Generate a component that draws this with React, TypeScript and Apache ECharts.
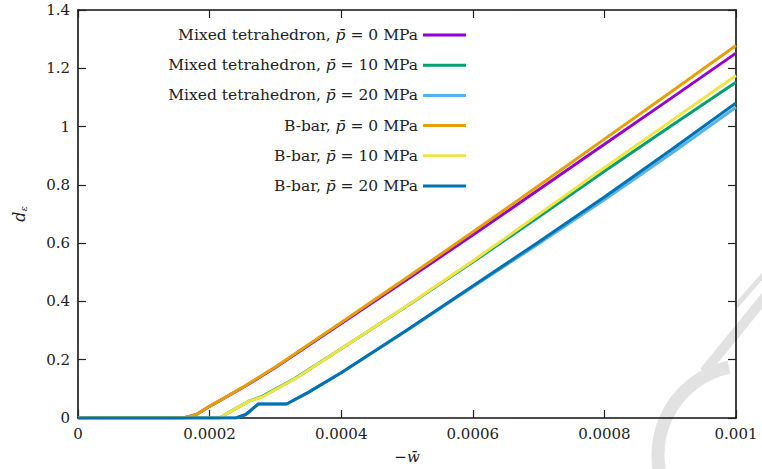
import React, { useEffect, useRef } from "react";
import * as echarts from "echarts";

const xTickLabels = ["0", "0.0002", "0.0004", "0.0006", "0.0008", "0.001"];
const yTickLabels = ["0", "0.2", "0.4", "0.6", "0.8", "1", "1.2", "1.4"];

const seriesNames = [
  "Mixed tetrahedron, p\u0304 = 0 MPa",
  "Mixed tetrahedron, p\u0304 = 10 MPa",
  "Mixed tetrahedron, p\u0304 = 20 MPa",
  "B-bar, p\u0304 = 0 MPa",
  "B-bar, p\u0304 = 10 MPa",
  "B-bar, p\u0304 = 20 MPa",
];

const seriesColors = ["#9400d3", "#009e73", "#56b4e9", "#e69f00", "#f0e442", "#0072b2"];

const mixed0: [number, number][] = [
  [0, 0], [0.00016, 0], [0.00018, 0.012], [0.0002, 0.04], [0.00025, 0.104],
  [0.0003, 0.173], [0.0004, 0.324], [0.0005, 0.475], [0.0006, 0.628],
  [0.0007, 0.783], [0.0008, 0.939], [0.0009, 1.095], [0.001, 1.252],
];
const mixed10: [number, number][] = [
  [0, 0], [0.000215, 0], [0.00023, 0.02], [0.00026, 0.058], [0.00028, 0.074],
  [0.00033, 0.136], [0.0004, 0.238], [0.0005, 0.384], [0.0006, 0.535],
  [0.0007, 0.69], [0.0008, 0.847], [0.0009, 1.0], [0.001, 1.152],
];
const mixed20: [number, number][] = [
  [0, 0], [0.00024, 0], [0.000255, 0.012], [0.000274, 0.048], [0.000317, 0.048],
  [0.00035, 0.088], [0.0004, 0.155], [0.0005, 0.3], [0.0006, 0.45],
  [0.0007, 0.598], [0.0008, 0.749], [0.0009, 0.905], [0.001, 1.066],
];
const bbar0: [number, number][] = [
  [0, 0], [0.00016, 0], [0.00018, 0.012], [0.0002, 0.04], [0.00025, 0.105],
  [0.0003, 0.175], [0.0004, 0.328], [0.0005, 0.482], [0.0006, 0.638],
  [0.0007, 0.797], [0.0008, 0.957], [0.0009, 1.117], [0.001, 1.278],
];
const bbar10: [number, number][] = [
  [0, 0], [0.000215, 0], [0.00023, 0.02], [0.00026, 0.058], [0.00028, 0.072],
  [0.00033, 0.135], [0.0004, 0.238], [0.0005, 0.385], [0.0006, 0.539],
  [0.0007, 0.698], [0.0008, 0.859], [0.0009, 1.017], [0.001, 1.175],
];
const bbar20: [number, number][] = [
  [0, 0], [0.00024, 0], [0.000255, 0.012], [0.000274, 0.048], [0.000317, 0.048],
  [0.00035, 0.088], [0.0004, 0.155], [0.0005, 0.302], [0.0006, 0.453],
  [0.0007, 0.604], [0.0008, 0.758], [0.0009, 0.918], [0.001, 1.081],
];

const seriesData = [mixed0, mixed10, mixed20, bbar0, bbar10, bbar20];

const FONT = "'DejaVu Serif', 'Liberation Serif', serif";
const TXT = "#222";
const WM = "#e2e2e2";
const X_MIN = 0, X_MAX = 0.001, Y_MIN = 0, Y_MAX = 1.4;
const GRID = { left: 78, right: 26, top: 10, bottom: 51 };
const W = 762, H = 469;
const PLOT_W = W - GRID.left - GRID.right;
const PLOT_H = H - GRID.top - GRID.bottom;

export default function App() {
  const ref = useRef<HTMLDivElement>(null);
  useEffect(() => {
    if (!ref.current) return;
    const chart = echarts.init(ref.current, undefined, { renderer: "svg" });
    const mkLine = () => ({ show: true, onZero: false, lineStyle: { color: "#111", width: 1.6 } });
    const mkTick = () => ({ show: true, inside: false, length: 8, lineStyle: { color: "#222", width: 1.2 } });
    // Tick-only axes placed on the opposite side so that their outward ticks point into the plot.
    const xTickAxis = (position: "top" | "bottom", offset: number) => ({
      type: "value",
      min: X_MIN,
      max: X_MAX,
      interval: 0.0002,
      position,
      offset,
      axisLine: { show: false, onZero: false },
      axisTick: mkTick(),
      splitLine: { show: false },
      axisLabel: { show: false },
    });
    const yTickAxis = (position: "left" | "right", offset: number) => ({
      type: "value",
      min: Y_MIN,
      max: Y_MAX,
      interval: 0.2,
      position,
      offset,
      axisLine: { show: false, onZero: false },
      axisTick: mkTick(),
      splitLine: { show: false },
      axisLabel: { show: false },
    });
    chart.setOption({
      animation: false,
      backgroundColor: "#ffffff",
      textStyle: { fontFamily: FONT },
      grid: { ...GRID, containLabel: false },
      legend: {
        orient: "vertical",
        align: "right",
        right: 296,
        top: 27,
        padding: 0,
        itemWidth: 43,
        itemHeight: 3,
        itemGap: 14.2,
        icon: "rect",
        data: seriesNames,
        formatter: (name: string) => name.replace("p\u0304", "{i|p\u0304}"),
        textStyle: {
          fontFamily: FONT,
          fontSize: 15.5,
          color: TXT,
          lineHeight: 16,
          rich: { i: { fontFamily: FONT, fontStyle: "italic", fontSize: 15.5, color: TXT, lineHeight: 16 } },
        },
      },
      xAxis: [
        {
          type: "value",
          min: X_MIN,
          max: X_MAX,
          interval: 0.0002,
          position: "bottom",
          name: "\u2212{i|w\u0304}",
          nameLocation: "middle",
          nameGap: 31,
          nameTextStyle: {
            fontFamily: FONT,
            fontSize: 15,
            color: TXT,
            rich: { i: { fontFamily: FONT, fontStyle: "italic", fontSize: 15, color: TXT } },
          },
          axisLine: mkLine(),
          axisTick: { show: false },
          splitLine: { show: false },
          axisLabel: {
            margin: 8,
            fontFamily: FONT,
            fontSize: 15,
            color: TXT,
            formatter: (v: number) => xTickLabels[Math.round(v / 0.0002)] ?? "",
          },
        },
        {
          type: "value",
          min: X_MIN,
          max: X_MAX,
          interval: 0.0002,
          position: "top",
          axisLine: mkLine(),
          axisTick: { show: false },
          splitLine: { show: false },
          axisLabel: { show: false },
        },
        xTickAxis("top", -PLOT_H),
        xTickAxis("bottom", -PLOT_H),
      ],
      yAxis: [
        {
          type: "value",
          min: Y_MIN,
          max: Y_MAX,
          interval: 0.2,
          position: "left",
          name: "{d|d}{s|\u03b5}",
          nameLocation: "middle",
          nameRotate: 90,
          nameGap: 50,
          nameTextStyle: {
            rich: {
              d: { fontFamily: FONT, fontStyle: "italic", fontSize: 16, color: TXT },
              s: { fontFamily: FONT, fontStyle: "italic", fontSize: 10, color: TXT, padding: [8, 0, 0, 0] },
            },
          },
          axisLine: mkLine(),
          axisTick: { show: false },
          splitLine: { show: false },
          axisLabel: {
            margin: 8,
            fontFamily: FONT,
            fontSize: 15,
            color: TXT,
            formatter: (v: number) => yTickLabels[Math.round(v / 0.2)] ?? "",
          },
        },
        {
          type: "value",
          min: Y_MIN,
          max: Y_MAX,
          interval: 0.2,
          position: "right",
          axisLine: mkLine(),
          axisTick: { show: false },
          splitLine: { show: false },
          axisLabel: { show: false },
        },
        yTickAxis("right", -PLOT_W),
        yTickAxis("left", -PLOT_W),
      ],
      graphic: [
        {
          type: "arc",
          z: -10,
          silent: true,
          shape: { cx: 748, cy: 455, r: 90, startAngle: 2.6, endAngle: 4.5, clockwise: true },
          style: { stroke: WM, lineWidth: 13, fill: "none" },
        },
        {
          type: "line",
          z: -10,
          silent: true,
          shape: { x1: 704, y1: 372, x2: 766, y2: 296 },
          style: { stroke: WM, lineWidth: 10 },
        },
        {
          type: "line",
          z: -10,
          silent: true,
          shape: { x1: 736, y1: 306, x2: 766, y2: 272 },
          style: { stroke: WM, lineWidth: 5 },
        },
      ],
      series: seriesNames.map((name, i) => ({
        name,
        type: "line",
        xAxisIndex: 0,
        yAxisIndex: 0,
        data: seriesData[i],
        showSymbol: false,
        symbol: "none",
        color: seriesColors[i],
        lineStyle: { color: seriesColors[i], width: 3 },
        z: 2 + i,
      })),
    });
    return () => chart.dispose();
  }, []);
  return (
    <div
      ref={ref}
      style={{ position: "absolute", left: 0, top: 0, width: W, height: H, background: "#fff" }}
    />
  );
}
